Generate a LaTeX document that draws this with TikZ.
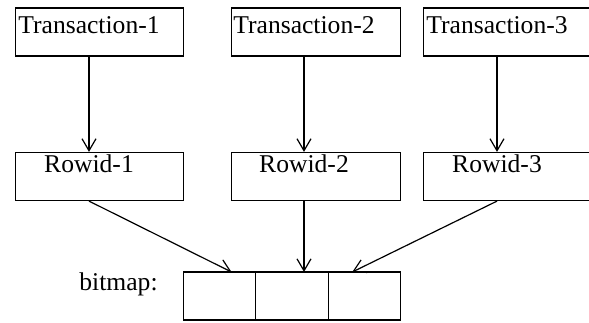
\documentclass[tikz,border=0pt]{standalone}
\usepackage{fontspec}
\setmainfont{Liberation Serif}
\usetikzlibrary{arrows.meta,positioning}
\begin{document}
\begin{tikzpicture}[x=0.5pt,y=-0.5pt,
    box/.style={draw,line width=0.6pt,minimum width=84.25pt,minimum height=24pt,inner sep=0pt},
    cell/.style={draw,line width=0.6pt,minimum width=36.2pt,minimum height=24pt,inner sep=0pt,outer sep=0pt},
    lbl/.style={inner sep=0pt,anchor=base,font=\fontsize{12.8}{14}\selectfont},
    link/.style={-{Straight Barb[length=6pt,width=7pt]},line width=0.6pt}]
  \useasboundingbox (0,0) rectangle (589,322);
  % transactions
  \node[box] (t1) at (99.5,32) {};
  \node[box] (t2) at (316,32) {};
  \node[box] (t3) at (507.5,32) {};
  \node[lbl] (t1l) at (89,33) {Transaction-1};
  \node[lbl] (t2l) at (304,33) {Transaction-2};
  \node[lbl] (t3l) at (497,33) {Transaction-3};
  % rowids
  \node[box] (r1) at (99.5,176.5) {};
  \node[box] (r2) at (316,176.5) {};
  \node[box] (r3) at (507.5,176.5) {};
  \node[lbl] (r1l) at (89,172) {Rowid-1};
  \node[lbl] (r2l) at (304,172) {Rowid-2};
  \node[lbl] (r3l) at (497,172) {Rowid-3};
  % bitmap cells
  \node[cell] (c1) at (219.5,296) {};
  \node[cell,right=0pt of c1] (c2) {};
  \node[cell,right=0pt of c2] (c3) {};
  \node[lbl,anchor=base east] (bm) at (158,290) {bitmap:};
  % arrows
  \draw[link] (t1l |- t1.south) -- (r1l |- r1.north);
  \draw[link] (t2l |- t2.south) -- (r2l |- r2.north);
  \draw[link] (t3l |- t3.south) -- (r3l |- r3.north);
  \draw[link] (r1l |- r1.south) -- ([xshift=6pt]c1.north);
  \draw[link] (r2l |- r2.south) -- (r2l |- c2.north);
  \draw[link] (r3l |- r3.south) -- ([xshift=-6pt]c3.north);
\end{tikzpicture}
\end{document}
